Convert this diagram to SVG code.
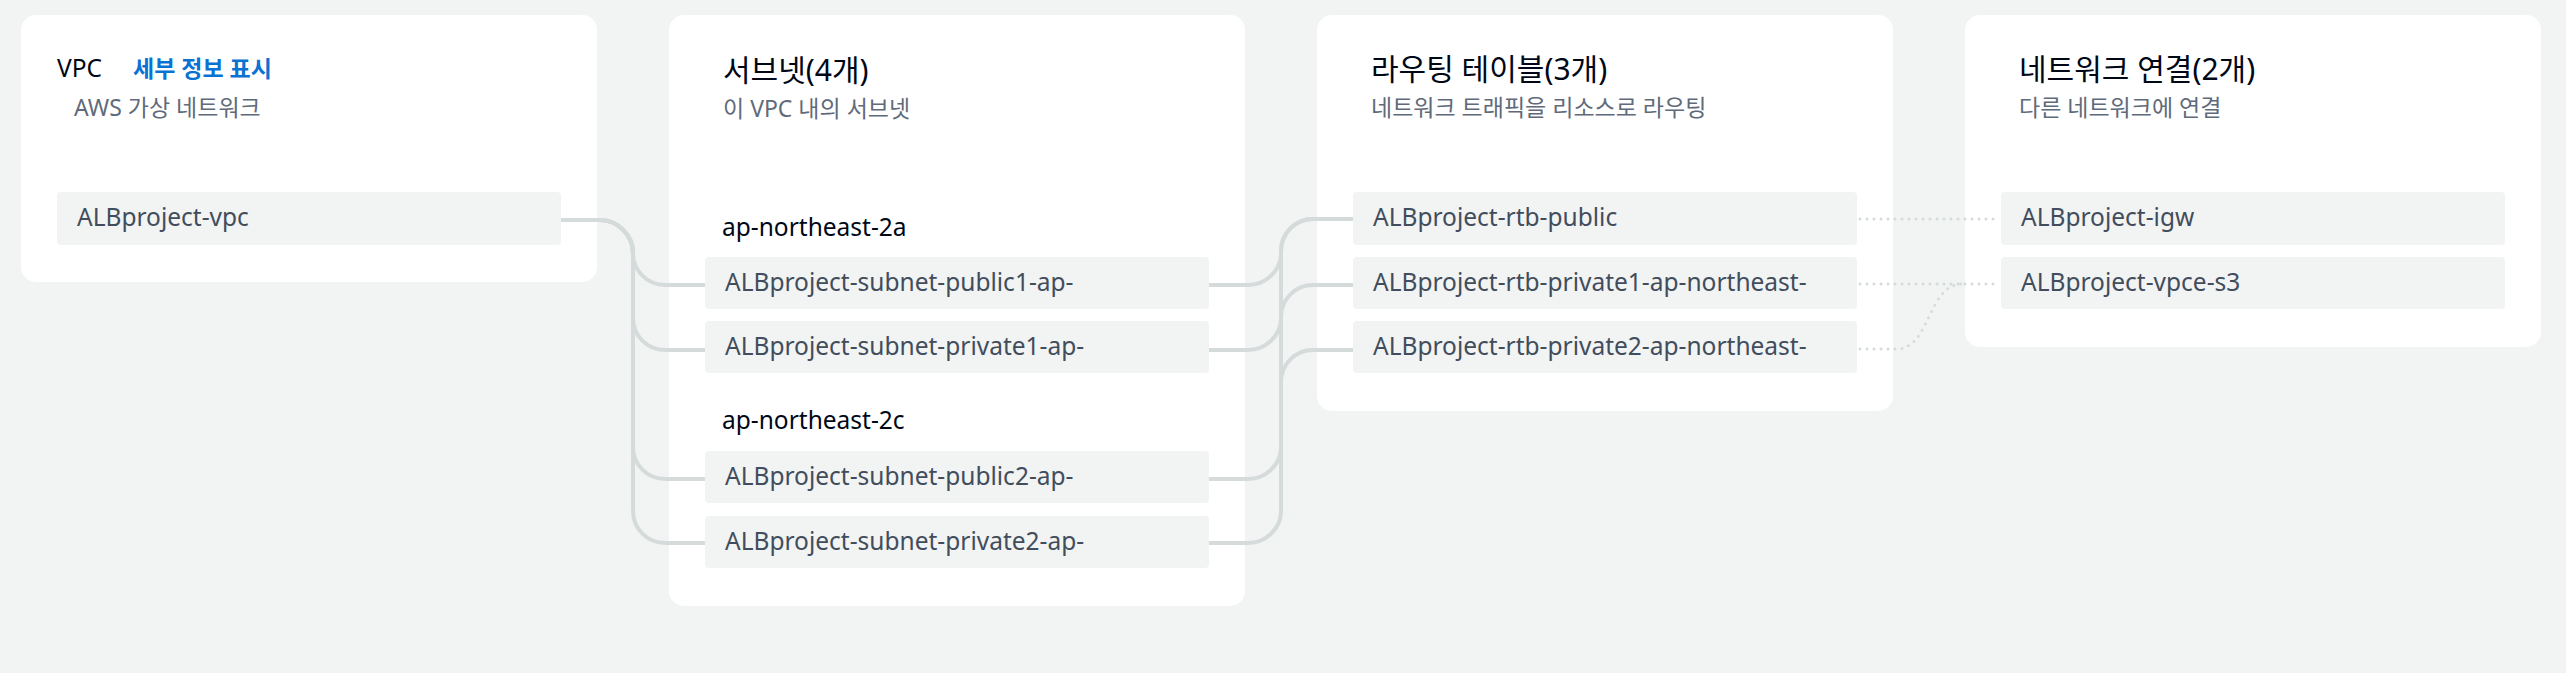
<svg xmlns="http://www.w3.org/2000/svg" width="2566" height="673" viewBox="0 0 2566 673">
<style>
text{font-family:"Noto Sans","Noto Sans CJK KR",sans-serif}
.card{fill:#ffffff}
.row{fill:#f2f3f3}
.h1{font-size:30px;fill:#000716}
.h2{font-size:24.5px;fill:#000716}
.link{font-size:23px;fill:#0972d3;font-weight:700}
.sub{font-size:23px;fill:#5f6b7a}
.az{font-size:24.5px;fill:#000716}
.lbl{font-size:24.5px;fill:#414d5c}
.edge{fill:none;stroke:#d5dbdb;stroke-width:4}
.dot{fill:none;stroke:#d5dbdb;stroke-width:3;stroke-dasharray:0 7;stroke-linecap:round}
</style>
<rect x="0" y="0" width="2566" height="673" fill="#f2f3f3"/>

<g id="card-vpc">
<rect class="card" x="21" y="15" width="576" height="267" rx="15"/>
<text class="h2" x="57" y="77">VPC</text>
<text class="link" x="133" y="77">세부 정보 표시</text>
<text class="sub" x="74" y="116">AWS 가상 네트워크</text>
</g>
<g id="card-subnets">
<rect class="card" x="669" y="15" width="576" height="591" rx="15"/>
<text class="h1" x="723" y="81">서브넷(4개)</text>
<text class="sub" x="723" y="117">이 VPC 내의 서브넷</text>
<text class="az" x="722" y="236">ap-northeast-2a</text>
<text class="az" x="722" y="429">ap-northeast-2c</text>
</g>
<g id="card-rtb">
<rect class="card" x="1317" y="15" width="576" height="396" rx="15"/>
<text class="h1" x="1371" y="80">라우팅 테이블(3개)</text>
<text class="sub" x="1371" y="116">네트워크 트래픽을 리소스로 라우팅</text>
</g>
<g id="card-net">
<rect class="card" x="1965" y="15" width="576" height="332" rx="15"/>
<text class="h1" x="2019" y="80">네트워크 연결(2개)</text>
<text class="sub" x="2019" y="116">다른 네트워크에 연결</text>
</g>

<g id="connectors">
<path class="edge" d="M561 220 H600 C617.7 220 633 235.3 633 253 V253 C633 270.7 647.3 285 665 285 H705"/>
<path class="edge" d="M561 220 H600 C617.7 220 633 235.3 633 253 V318 C633 335.7 647.3 350 665 350 H705"/>
<path class="edge" d="M561 220 H600 C617.7 220 633 235.3 633 253 V447 C633 464.7 647.3 479 665 479 H705"/>
<path class="edge" d="M561 220 H600 C617.7 220 633 235.3 633 253 V511 C633 528.7 647.3 543 665 543 H705"/>
<path class="edge" d="M1209 285 H1248 C1265.7 285 1281 270.7 1281 253 V251 C1281 233.3 1295.3 219 1313 219 H1353"/>
<path class="edge" d="M1209 350 H1248 C1265.7 350 1281 335.7 1281 318 V317 C1281 299.3 1295.3 285 1313 285 H1353"/>
<path class="edge" d="M1209 479 H1248 C1265.7 479 1281 464.7 1281 447 V251 C1281 233.3 1295.3 219 1313 219 H1353"/>
<path class="edge" d="M1209 543 H1248 C1265.7 543 1281 528.7 1281 511 V382 C1281 364.3 1295.3 350 1313 350 H1353"/>
<path class="dot" d="M1860 219 H1998"/>
<path class="dot" d="M1860 284 H1998"/>
<path class="dot" d="M1860 349 H1897 C1930 349 1928 284 1962 284"/>
</g>

<g id="node-vpc">
<rect class="row" x="57" y="192" width="504" height="53" rx="4"/>
<text class="lbl" x="77" y="226">ALBproject-vpc</text>
</g>
<g id="node-subnet-public1">
<rect class="row" x="705" y="257" width="504" height="52" rx="4"/>
<text class="lbl" x="725" y="291">ALBproject-subnet-public1-ap-</text>
</g>
<g id="node-subnet-private1">
<rect class="row" x="705" y="321" width="504" height="52" rx="4"/>
<text class="lbl" x="725" y="355">ALBproject-subnet-private1-ap-</text>
</g>
<g id="node-subnet-public2">
<rect class="row" x="705" y="451" width="504" height="52" rx="4"/>
<text class="lbl" x="725" y="485">ALBproject-subnet-public2-ap-</text>
</g>
<g id="node-subnet-private2">
<rect class="row" x="705" y="516" width="504" height="52" rx="4"/>
<text class="lbl" x="725" y="550">ALBproject-subnet-private2-ap-</text>
</g>
<g id="node-rtb-public">
<rect class="row" x="1353" y="192" width="504" height="53" rx="4"/>
<text class="lbl" x="1373" y="226">ALBproject-rtb-public</text>
</g>
<g id="node-rtb-private1">
<rect class="row" x="1353" y="257" width="504" height="52" rx="4"/>
<text class="lbl" x="1373" y="291">ALBproject-rtb-private1-ap-northeast-</text>
</g>
<g id="node-rtb-private2">
<rect class="row" x="1353" y="321" width="504" height="52" rx="4"/>
<text class="lbl" x="1373" y="355">ALBproject-rtb-private2-ap-northeast-</text>
</g>
<g id="node-igw">
<rect class="row" x="2001" y="192" width="504" height="53" rx="4"/>
<text class="lbl" x="2021" y="226">ALBproject-igw</text>
</g>
<g id="node-vpce-s3">
<rect class="row" x="2001" y="257" width="504" height="52" rx="4"/>
<text class="lbl" x="2021" y="291">ALBproject-vpce-s3</text>
</g>
</svg>
